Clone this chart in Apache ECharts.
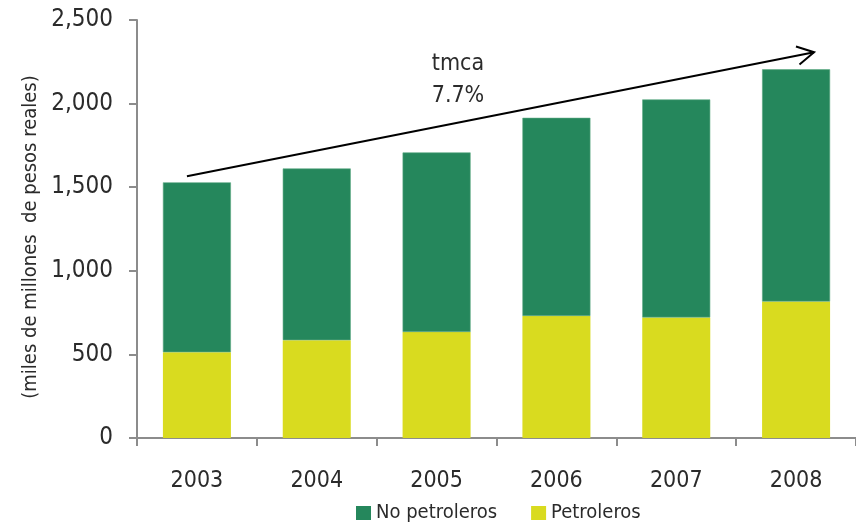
<!DOCTYPE html>
<html>
<head>
<meta charset="utf-8">
<script src="https://cdn.jsdelivr.net/npm/echarts@6/dist/echarts.min.js"></script>
<style>
  html, body { margin: 0; padding: 0; background: #ffffff; }
  #chart { width: 856px; height: 528px; }
</style>
</head>
<body>
<div id="chart"></div>
<script>
// Ingresos presupuestarios, miles de millones de pesos reales
const years = ['2003', '2004', '2005', '2006', '2007', '2008'];
const petroleros = [513, 585, 634, 730, 721, 816];
const noPetroleros = [1016, 1027, 1074, 1185, 1304, 1389];
const yTicks = [0, 500, 1000, 1500, 2000, 2500];

// Growth arrow: from just above the 2003 bar to the right of the 2008 bar
const arrowFrom = { cat: 0, value: 1566 };
const arrowTo = { cat: 5, value: 2307 };
const growthLabel = ['tmca', '7.7%'];

const FONT = '"Liberation Sans Narrow", "DejaVu Sans Condensed", "Roboto", sans-serif';
const TEXT = '#2b2b2b';
const AXIS = '#8c8c8c';
const GREEN = '#25875c';
const YELLOW = '#d9db1f';

const chart = echarts.init(document.getElementById('chart'), null, { renderer: 'canvas' });

const fmt = v => v.toString().replace(/\B(?=(\d{3})+(?!\d))/g, ',');

chart.setOption({
  animation: false,
  textStyle: { fontFamily: FONT, color: TEXT },
  grid: { left: 137, right: 0, top: 20, bottom: 90, containLabel: false },
  legend: {
    top: 498,
    left: 351,
    itemWidth: 15,
    itemHeight: 14,
    itemGap: 34,
    icon: 'rect',
    itemStyle: { borderWidth: 0 },
    textStyle: { fontFamily: FONT, fontSize: 20, color: TEXT },
    data: ['No petroleros', 'Petroleros']
  },
  xAxis: {
    type: 'category',
    data: years,
    axisLine: { lineStyle: { color: AXIS, width: 2 } },
    axisTick: { show: true, length: 8, lineStyle: { color: AXIS, width: 2 } },
    axisLabel: { margin: 32, fontFamily: FONT, fontSize: 23, color: TEXT }
  },
  yAxis: {
    type: 'value',
    min: yTicks[0],
    max: yTicks[yTicks.length - 1],
    interval: 500,
    name: '(miles de millones  de pesos reales)',
    nameLocation: 'middle',
    nameGap: 86,
    nameTextStyle: { fontFamily: FONT, fontSize: 20, color: TEXT, padding: [0, 16, 0, 0] },
    axisLine: { show: true, lineStyle: { color: AXIS, width: 2 } },
    axisTick: { show: true, length: 8, lineStyle: { color: AXIS, width: 2 } },
    splitLine: { show: false },
    axisLabel: { margin: 24, fontFamily: FONT, fontSize: 24, color: TEXT, formatter: fmt }
  },
  series: [
    {
      name: 'Petroleros',
      type: 'bar',
      stack: 'total',
      data: petroleros,
      barWidth: 68,
      itemStyle: { color: YELLOW }
    },
    {
      name: 'No petroleros',
      type: 'bar',
      stack: 'total',
      data: noPetroleros,
      barWidth: 68,
      itemStyle: { color: GREEN, borderColor: '#5aa882', borderWidth: 0.6 }
    }
  ]
});

// Arrow and growth annotation, placed through the chart's own scales
function drawArrow() {
  const p0 = chart.convertToPixel({ gridIndex: 0 }, [arrowFrom.cat, arrowFrom.value]);
  const p1 = chart.convertToPixel({ gridIndex: 0 }, [arrowTo.cat, arrowTo.value]);
  const x0 = p0[0] - 10, y0 = p0[1];
  const x1 = p1[0] + 18, y1 = p1[1];
  const ang = Math.atan2(y1 - y0, x1 - x0);
  const head = 19, spread = 0.5;
  const hA = [x1 - head * Math.cos(ang - spread), y1 - head * Math.sin(ang - spread)];
  const hB = [x1 - head * Math.cos(ang + spread), y1 - head * Math.sin(ang + spread)];
  chart.setOption({
    graphic: [
      {
        type: 'line', z: 100,
        shape: { x1: x0, y1: y0, x2: x1, y2: y1 },
        style: { stroke: '#000', lineWidth: 2 }
      },
      {
        type: 'polyline', z: 100,
        shape: { points: [hA, [x1, y1], hB] },
        style: { stroke: '#000', lineWidth: 2, fill: null }
      },
      {
        type: 'text', z: 100,
        x: 458, y: 48,
        style: {
          text: growthLabel.join('\n'),
          fontFamily: FONT, fontSize: 23, lineHeight: 32,
          fill: TEXT, align: 'center', verticalAlign: 'top'
        }
      }
    ]
  });
}
drawArrow();
</script>
</body>
</html>
